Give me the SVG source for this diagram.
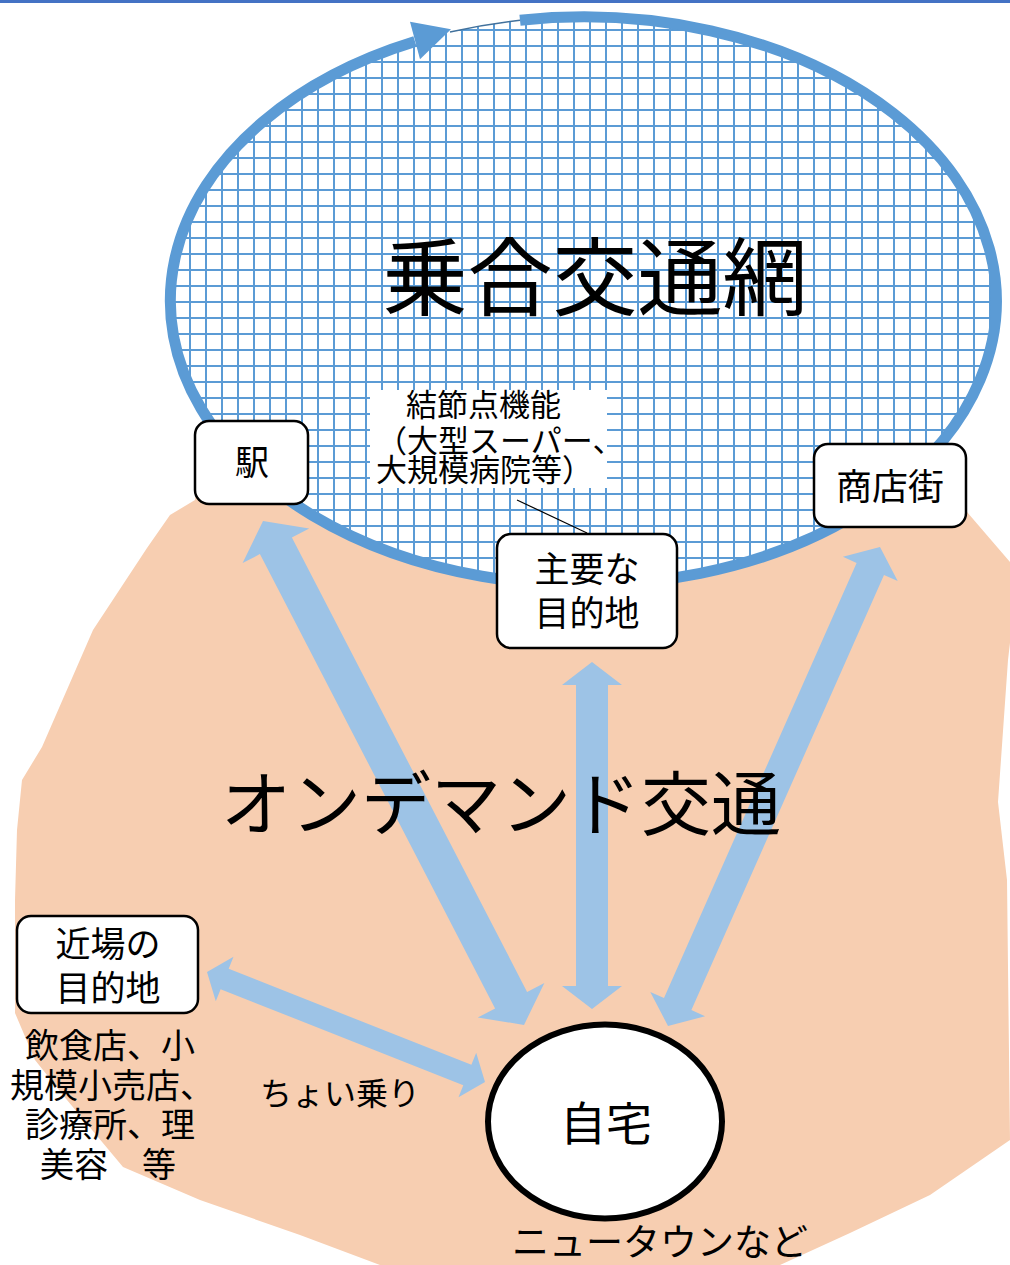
<svg xmlns="http://www.w3.org/2000/svg" width="1010" height="1265" viewBox="0 0 1010 1265">
<defs>
<pattern id="grid" patternUnits="userSpaceOnUse" x="13" y="13" width="16" height="16">
<rect x="0" y="0" width="16" height="16" fill="#ffffff"/>
<rect x="0" y="0" width="2" height="16" fill="#5b9bd5"/>
<rect x="0" y="0" width="16" height="2" fill="#5b9bd5"/>
</pattern>
<style>
.box{fill:#ffffff;stroke:#000000;stroke-width:2.5}
.arrow{fill:#9dc3e6;stroke:none}
.t{font-family:"Noto Sans CJK JP","Noto Sans CJK SC",sans-serif;fill:#000000}
.c{text-anchor:middle}
</style>
</defs>
<rect x="0" y="0" width="1010" height="1265" fill="#ffffff"/>
<rect x="0" y="0" width="1010" height="3" fill="#4472c4"/>

<g id="area">
<path d="M195,500 L170,515 L147,548 L93,630 L42,747 L22,780 L17,830 L15,900 L15,1013 L35,1060 L67,1100 L123,1167 L200,1200 L300,1235 L380,1265 L780,1265 L850,1233 L930,1195 L1010,1140 L1007,880 L998,802 L1008,660 L1015,600 L1010,562 L967,512 L960,480 L600,450 L200,470 Z" fill="#f7ceb1"/>
</g>

<g id="network">
<ellipse cx="583" cy="301" rx="413" ry="284" fill="url(#grid)"/>
<path d="M520,20.3 A413,284 0 1,1 415,41.6" fill="none" stroke="#5b9bd5" stroke-width="11"/>
<path d="M450,32.1 A413,284 0 0,1 520,20.3" fill="none" stroke="#41719c" stroke-width="1.5"/>
<polygon points="410,21.7 420,59.3 451,29.3" fill="#5b9bd5"/>
<text class="t c" x="595" y="309" font-size="85">乗合交通網</text>
</g>

<g id="hub-label">
<rect x="370" y="390" width="237" height="98" fill="#ffffff"/>
<text class="t" font-size="31"><tspan x="406" y="416">結節点機能</tspan><tspan x="376" y="452">（大型スーパー、</tspan><tspan x="376" y="481">大規模病院等）</tspan></text>
<line x1="517" y1="500" x2="587" y2="533" stroke="#000000" stroke-width="1.2"/>
</g>

<g id="connectors">
<polygon class="arrow" points="263,521 309.2,528.6 291.9,537.6 527.1,991.9 544.4,982.9 524,1025 477.8,1017.4 495.1,1008.4 259.9,554.1 242.6,563.1"/>
<polygon class="arrow" points="592,662 622,685 608,685 608,986 622,986 592,1009 562,986 576,986 576,685 562,685"/>
<polygon class="arrow" points="880,547 897.7,581.1 884,575 691.4,1010.1 705.1,1016.2 668,1026 650.3,991.9 664,998 856.6,562.9 842.9,556.8"/>
<polygon class="arrow" points="207,972 215.8,1001.3 220.6,989.2 463.3,1085.2 458.5,1097.3 485,1082 476.2,1052.7 471.4,1064.8 228.7,968.8 233.5,956.7"/>
</g>

<text class="t c" x="501" y="830" font-size="70">オンデマンド交通</text>

<g id="node-eki">
<rect class="box" x="195" y="421" width="113" height="83" rx="14"/>
<text class="t c" x="252" y="475" font-size="34">駅</text>
</g>

<g id="node-main-dest">
<rect class="box" x="497" y="534" width="180" height="114" rx="14"/>
<text class="t c" font-size="35"><tspan x="587" y="582">主要な</tspan><tspan x="587" y="626">目的地</tspan></text>
</g>

<g id="node-shotengai">
<rect class="box" x="814" y="444" width="152" height="83" rx="14"/>
<text class="t c" x="890" y="500" font-size="36">商店街</text>
</g>

<g id="node-near-dest">
<rect class="box" x="17" y="916" width="181" height="97" rx="14"/>
<text class="t c" font-size="35"><tspan x="108" y="957">近場の</tspan><tspan x="108" y="1001">目的地</tspan></text>
</g>

<text class="t c" font-size="34"><tspan x="110" y="1058">飲食店、小</tspan><tspan x="112" y="1098">規模小売店、</tspan><tspan x="110" y="1137">診療所、理</tspan><tspan x="108" y="1177">美容　等</tspan></text>

<text class="t c" x="340" y="1105" font-size="32">ちょい乗り</text>

<g id="node-home">
<ellipse cx="605" cy="1121.5" rx="117" ry="97" fill="#ffffff" stroke="#000000" stroke-width="6"/>
<text class="t c" x="606" y="1140" font-size="46">自宅</text>
</g>

<text class="t c" x="660" y="1256" font-size="37">ニュータウンなど</text>
</svg>
